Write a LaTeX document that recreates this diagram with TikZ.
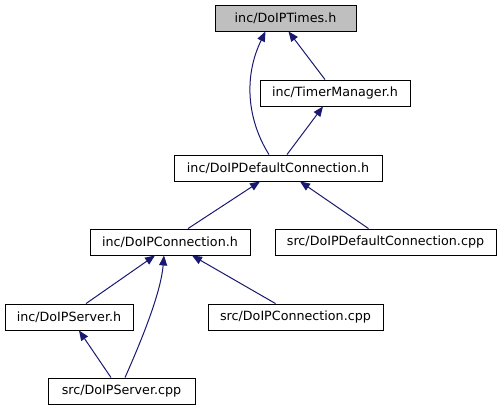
\documentclass[tikz,border=0pt]{standalone}
\usepackage{fontspec}
\setmainfont{DejaVu Sans}
\usetikzlibrary{arrows.meta,calc}
\definecolor{edgec}{HTML}{191970}
\definecolor{rootfill}{HTML}{BFBFBF}
\begin{document}
\begin{tikzpicture}[x=1bp,y=-1bp,
 box/.style={draw=black,line width=0.9bp,fill=white,minimum height=26bp,inner sep=0pt,font=\fontsize{12.7bp}{15bp}\selectfont},
 edge/.style={draw=edgec,line width=1bp,-{Triangle[length=10bp,width=8bp]},fill=none}]
\useasboundingbox (0,0) rectangle (503,411);
\node[box,fill=rootfill,minimum width=141bp] (times) at (285.5,18) {inc/DoIPTimes.h};
\node[box,minimum width=150bp] (tm) at (335,93) {inc/TimerManager.h};
\node[box,minimum width=208bp] (dc) at (278,168) {inc/DoIPDefaultConnection.h};
\node[box,minimum width=160bp] (conn) at (170,242) {inc/DoIPConnection.h};
\node[box,minimum width=221bp] (dccpp) at (385.5,242) {src/DoIPDefaultConnection.cpp};
\node[box,minimum width=128bp] (server) at (69,317) {inc/DoIPServer.h};
\node[box,minimum width=175bp] (conncpp) at (295.5,317) {src/DoIPConnection.cpp};
\node[box,minimum width=147bp] (servercpp) at (121.5,391) {src/DoIPServer.cpp};

\draw[edge] ([xshift=-10bp]tm.north) -- ([xshift=3bp]times.south);
\draw[edge] ([xshift=-9bp]dc.north) .. controls ++(-22,-35) and ++(-22,45) .. ([xshift=-20bp]times.south);
\draw[edge] ([xshift=9bp]dc.north) -- ([xshift=-12bp]tm.south);
\draw[edge] ([xshift=18bp]conn.north) -- ([xshift=-18bp]dc.south);
\draw[edge] ([xshift=-17bp]dccpp.north) -- ([xshift=22bp]dc.south);
\draw[edge] ([xshift=17bp]server.north) -- ([xshift=-15bp]conn.south);
\draw[edge] ([xshift=-20bp]conncpp.north) -- ([xshift=22bp]conn.south);
\draw[edge] ([xshift=3.5bp]servercpp.north) .. controls ++(20,-45) and ++(-3,35) .. ([xshift=-6bp]conn.south);
\draw[edge] ([xshift=-10.5bp]servercpp.north) -- ([xshift=10bp]server.south);
\end{tikzpicture}
\end{document}
